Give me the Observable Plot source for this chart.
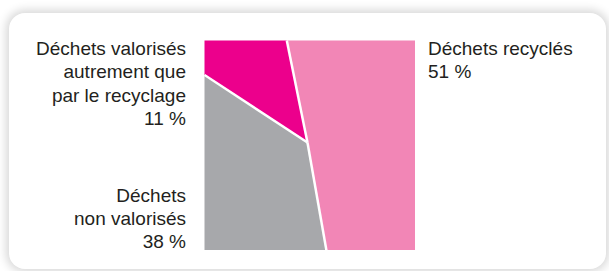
<!DOCTYPE html>
<html>
<head>
<meta charset="utf-8">
<script src="https://cdn.jsdelivr.net/npm/d3@7"></script>
<script src="https://cdn.jsdelivr.net/npm/@observablehq/plot@0.6"></script>
<style>
  html, body { margin: 0; padding: 0; background: #ffffff; width: 609px; height: 271px; overflow: hidden; }
  #card {
    position: absolute; left: 9px; top: 13px; width: 597px; height: 256px;
    background: #fff; border-radius: 16px;
    box-shadow: 0 0 10px 3px rgba(0,0,0,0.16);
  }
  .lbl {
    position: absolute; font-family: "Liberation Sans", Arial, Helvetica, sans-serif;
    font-size: 19px; line-height: 23.3px; color: #231f20; white-space: nowrap;
  }
  .right { text-align: right; }
  #chart { position: absolute; left: 204px; top: 40px; }
</style>
</head>
<body>
<div id="card"></div>
<div id="labels"></div>
<div id="chart"></div>
<script>
// Data
const categories = ["Déchets recyclés", "Déchets valorisés autrement que par le recyclage", "Déchets non valorisés"];
const labelLines = [["Déchets recyclés"], ["Déchets valorisés", "autrement que", "par le recyclage"], ["Déchets", "non valorisés"]];
const shares = [51, 11, 38];
const colors = ["#f286b6", "#ec008c", "#a7a8ab"];

// Geometry of the partition (unit square, y from top)
const junction = [0.488, 0.486];
const topCut = [0.390, 0];
const leftCut = [0, 0.164];
const bottomCut = [0.578, 1];

const polygons = [
  [topCut, [1, 0], [1, 1], bottomCut, junction],
  [[0, 0], topCut, junction, leftCut],
  [leftCut, junction, bottomCut, [0, 1]]
];

const vertices = polygons.flatMap((poly, i) =>
  poly.map(([x, y]) => ({cat: categories[i], x, y}))
);
const dividers = [topCut, leftCut, bottomCut].map(([x, y]) => ({x1: junction[0], y1: junction[1], x2: x, y2: y}));

const chart = Plot.plot({
  width: 211,
  height: 210,
  margin: 0,
  x: {domain: [0, 1], axis: null},
  y: {domain: [0, 1], reverse: true, axis: null},
  color: {domain: categories, range: colors},
  marks: [
    Plot.line(vertices, {x: "x", y: "y", z: "cat", fill: "cat", stroke: null, curve: "linear-closed"}),
    Plot.link(dividers, {x1: "x1", y1: "y1", x2: "x2", y2: "y2", stroke: "#ffffff", strokeWidth: 2.5})
  ]
});
document.getElementById("chart").appendChild(chart);

// Labels
const labelsEl = document.getElementById("labels");
function addLabel(lines, share, style, cls) {
  const d = document.createElement("div");
  d.className = "lbl " + (cls || "");
  Object.assign(d.style, style);
  d.innerHTML = [...lines, share + " %"].join("<br>");
  labelsEl.appendChild(d);
}
addLabel(labelLines[1], shares[1], {right: (609 - 186) + "px", top: "37px"}, "right");
addLabel(labelLines[2], shares[2], {right: (609 - 186) + "px", top: "183.5px"}, "right");
addLabel(labelLines[0], shares[0], {left: "428px", top: "37px"});
</script>
</body>
</html>
